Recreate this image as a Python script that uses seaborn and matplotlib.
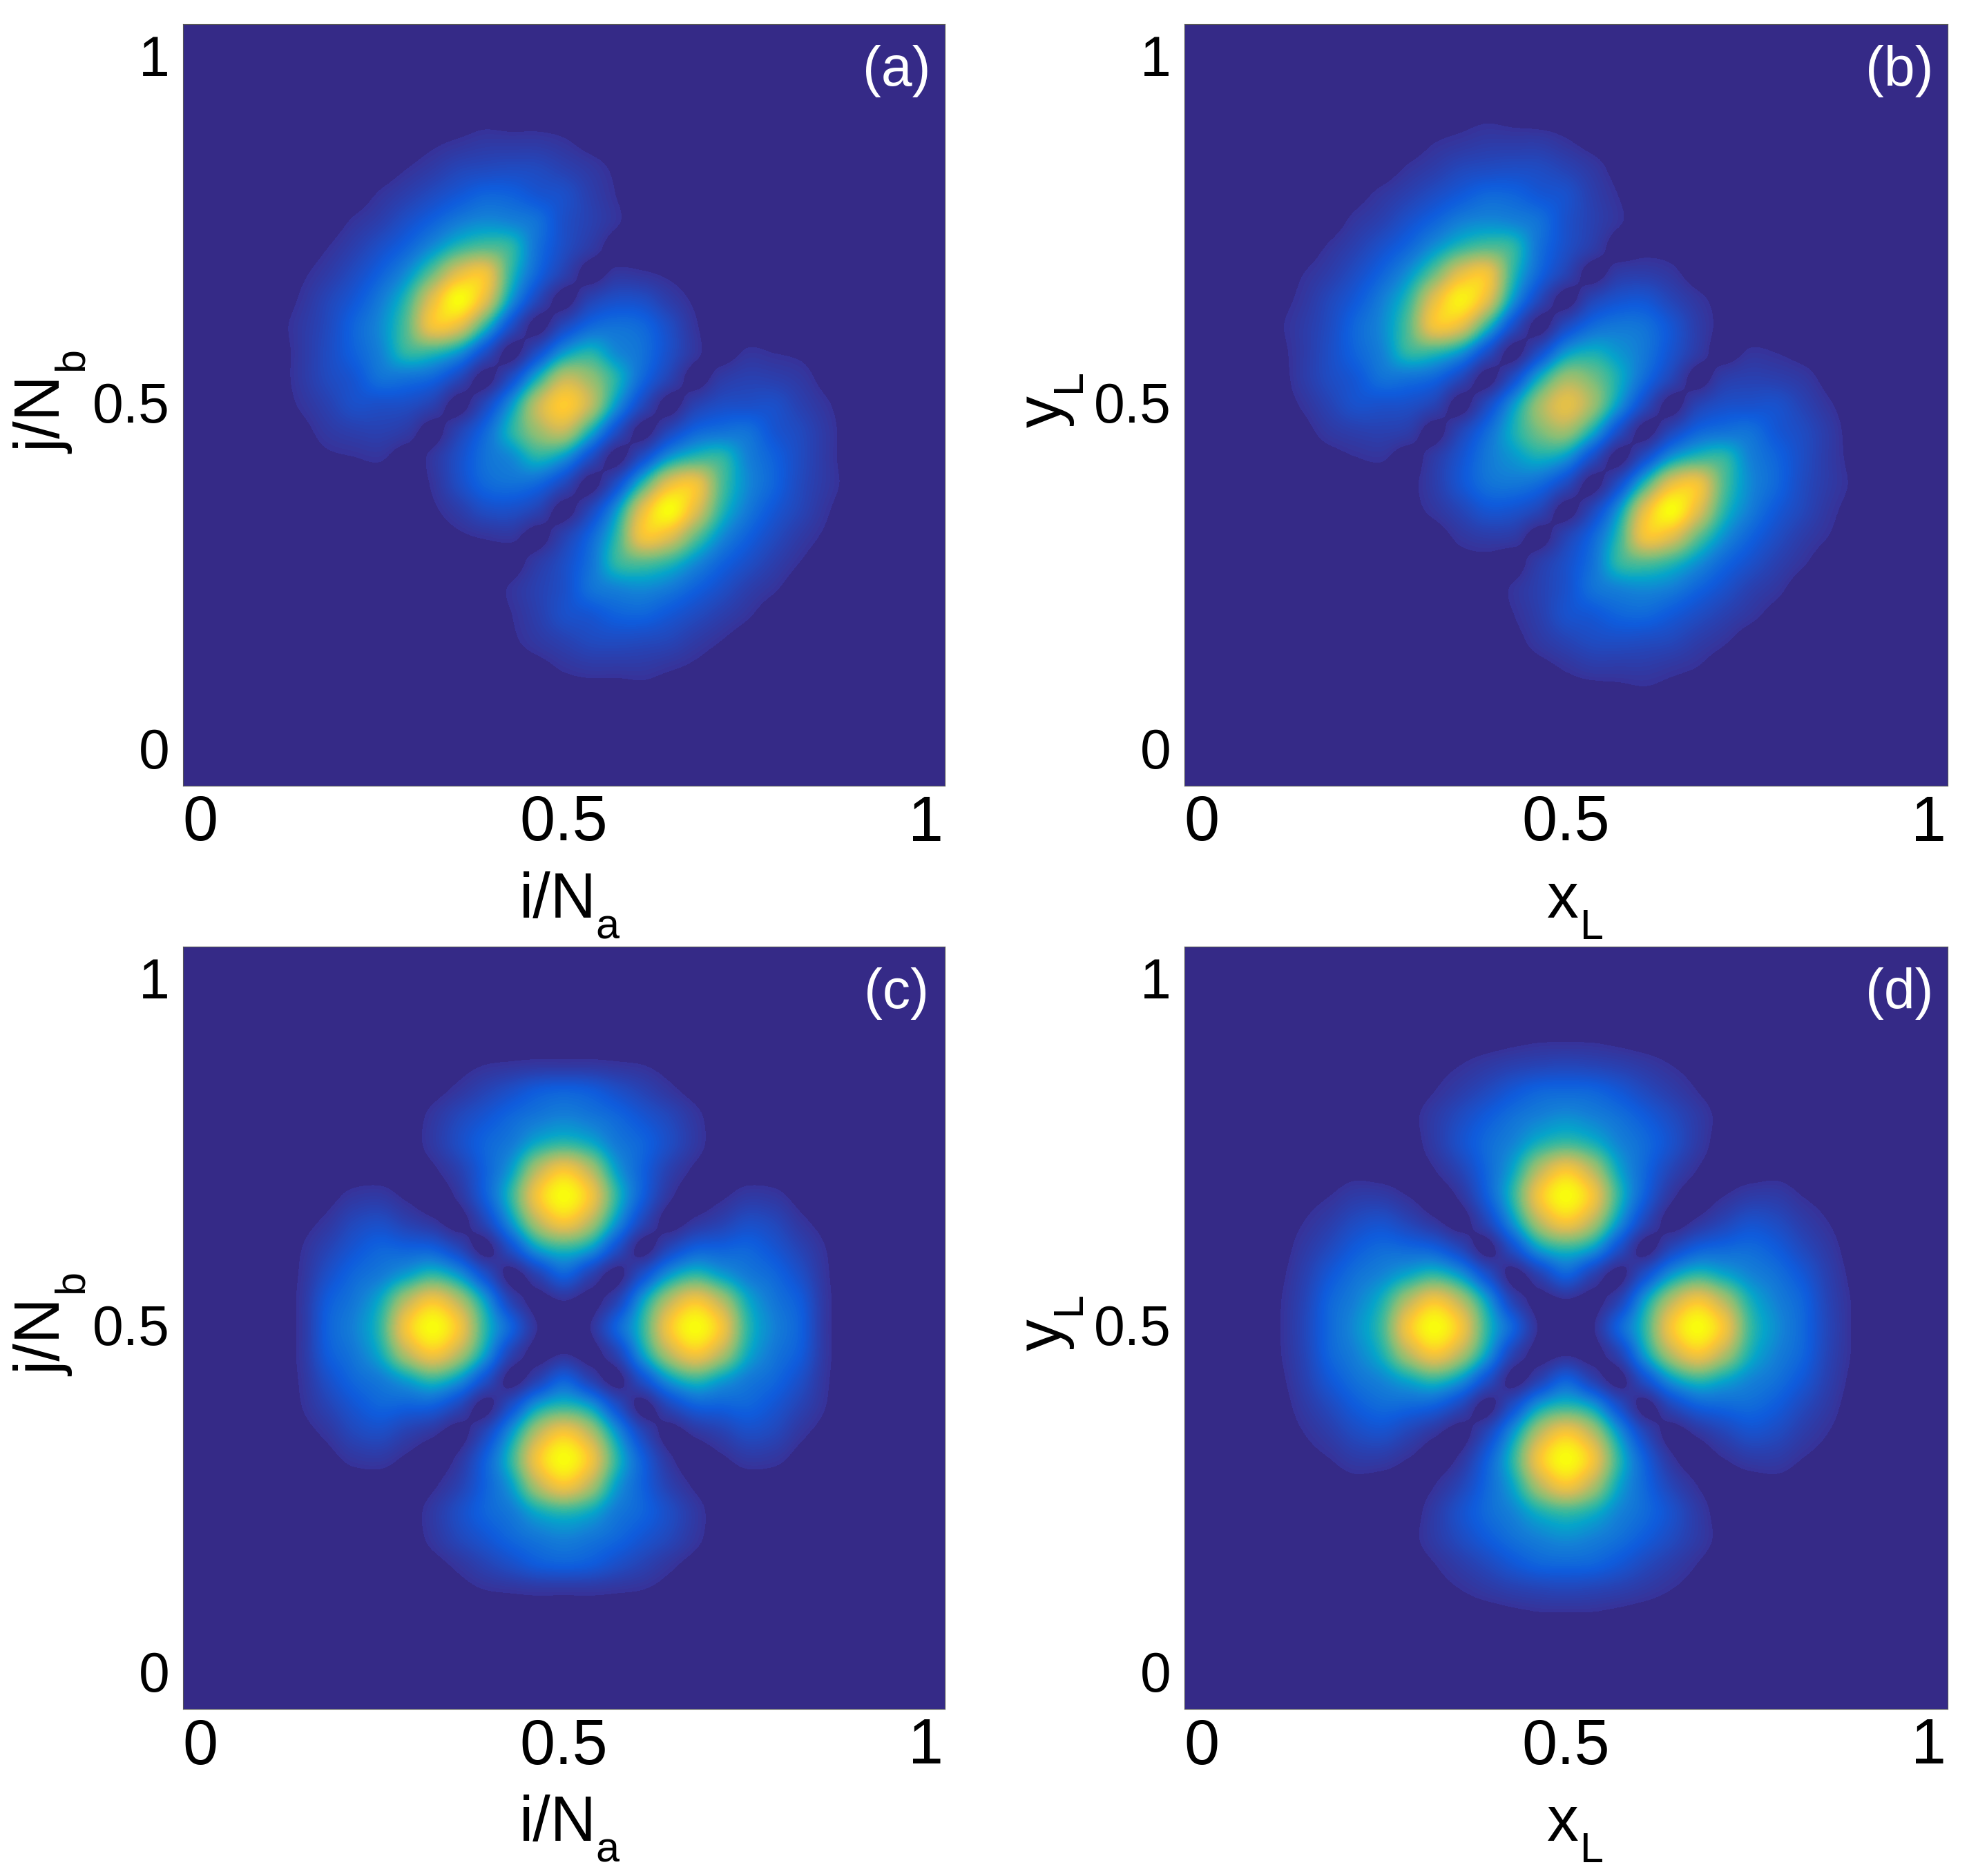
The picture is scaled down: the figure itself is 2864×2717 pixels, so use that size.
import numpy as np
import matplotlib
matplotlib.use("Agg")
import matplotlib.pyplot as plt
import seaborn as sns
from matplotlib.colors import LinearSegmentedColormap

# Values, 0 = background, 100 = brightest yellow
# rows run from top to bottom, lattice around the middle of each panel
panel_a = [
    [0,0,0,0,0,0,0,0,0,0,0,0,0,0,0,0,0,0,0,0,0,0,0,0,0],
    [0,0,0,0,0,0,0,0,0,1,0,0,0,0,0,0,0,0,0,0,0,0,0,0,0],
    [0,0,0,0,0,0,0,2,4,6,6,6,4,1,0,0,0,0,0,0,0,0,0,0,0],
    [0,0,0,0,0,0,3,7,12,14,15,14,10,6,2,0,0,0,0,0,0,0,0,0,0],
    [0,0,0,0,0,4,9,15,21,26,25,20,17,9,3,0,0,0,0,0,0,0,0,0,0],
    [0,0,0,0,4,9,17,25,33,37,35,30,17,10,4,0,0,0,0,0,0,0,0,0,0],
    [0,0,0,3,9,17,26,38,50,55,50,30,16,7,0,0,0,0,0,0,0,0,0,0,0],
    [0,0,2,7,15,25,38,58,80,84,50,26,10,0,5,4,2,0,0,0,0,0,0,0,0],
    [0,0,4,12,21,33,50,80,100,80,40,13,0,11,17,16,8,2,0,0,0,0,0,0,0],
    [0,1,6,14,26,37,55,84,80,50,17,0,14,27,30,27,16,4,0,0,0,0,0,0,0],
    [0,0,6,15,25,35,50,50,40,17,0,17,40,48,37,30,17,5,0,4,3,2,0,0,0],
    [0,0,6,14,20,30,30,26,13,0,17,47,72,65,48,27,11,0,7,10,9,6,1,0,0],
    [0,0,4,10,17,17,16,10,0,14,40,72,88,72,40,14,0,10,16,17,17,10,4,0,0],
    [0,0,1,6,9,10,7,0,11,27,48,65,72,47,17,0,13,26,30,30,20,14,6,0,0],
    [0,0,0,2,3,4,0,5,17,30,37,48,40,17,0,17,40,50,50,35,25,15,6,0,0],
    [0,0,0,0,0,0,0,4,16,27,30,27,14,0,17,50,80,84,55,37,26,14,6,1,0],
    [0,0,0,0,0,0,0,2,8,16,17,11,0,13,40,80,100,80,50,33,21,12,4,0,0],
    [0,0,0,0,0,0,0,0,2,4,5,0,10,26,50,84,80,58,38,25,15,7,2,0,0],
    [0,0,0,0,0,0,0,0,0,0,0,7,16,30,50,55,50,38,26,17,9,3,0,0,0],
    [0,0,0,0,0,0,0,0,0,0,4,10,17,30,35,37,33,25,17,9,4,0,0,0,0],
    [0,0,0,0,0,0,0,0,0,0,3,9,17,20,25,26,21,15,9,4,0,0,0,0,0],
    [0,0,0,0,0,0,0,0,0,0,2,6,10,14,15,14,12,7,3,0,0,0,0,0,0],
    [0,0,0,0,0,0,0,0,0,0,0,1,4,6,6,6,4,2,0,0,0,0,0,0,0],
    [0,0,0,0,0,0,0,0,0,0,0,0,0,0,0,1,0,0,0,0,0,0,0,0,0],
    [0,0,0,0,0,0,0,0,0,0,0,0,0,0,0,0,0,0,0,0,0,0,0,0,0],
]
panel_b = [
    [0,0,0,0,0,0,0,0,0,0,0,0,0,0,0,0,0,0,0,0,0,0,0,0,0],
    [0,0,0,0,0,0,0,0,1,2,1,0,0,0,0,0,0,0,0,0,0,0,0,0,0],
    [0,0,0,0,0,0,0,3,5,7,7,7,4,1,0,0,0,0,0,0,0,0,0,0,0],
    [0,0,0,0,0,0,4,8,13,15,16,15,11,6,1,0,0,0,0,0,0,0,0,0,0],
    [0,0,0,0,1,5,10,16,22,27,26,21,18,9,3,0,0,0,0,0,0,0,0,0,0],
    [0,0,0,0,5,10,18,26,34,37,35,30,18,10,4,0,0,0,0,0,0,0,0,0,0],
    [0,0,0,4,10,18,27,39,50,55,50,30,17,8,0,1,1,0,0,0,0,0,0,0,0],
    [0,0,3,8,16,26,39,58,80,84,50,26,11,0,7,8,5,0,0,0,0,0,0,0,0],
    [0,1,5,13,22,34,50,80,97,80,40,13,0,12,19,20,12,5,1,0,0,0,0,0,0],
    [0,2,7,15,27,37,55,84,80,50,17,0,15,28,32,30,20,8,1,0,0,0,0,0,0],
    [0,1,7,16,26,35,50,50,40,17,0,17,40,46,40,32,19,7,0,4,3,1,0,0,0],
    [0,0,7,15,21,30,30,26,13,0,17,46,66,60,46,28,12,0,8,10,9,6,1,0,0],
    [0,0,4,11,18,18,17,11,0,15,40,66,80,66,40,15,0,11,17,18,18,11,4,0,0],
    [0,0,1,6,9,10,8,0,12,28,46,60,66,46,17,0,13,26,30,30,21,15,7,0,0],
    [0,0,0,1,3,4,0,7,19,32,40,46,40,17,0,17,40,50,50,35,26,16,7,1,0],
    [0,0,0,0,0,0,1,8,20,30,32,28,15,0,17,50,80,84,55,37,27,15,7,2,0],
    [0,0,0,0,0,0,1,5,12,20,19,12,0,13,40,80,100,80,50,34,22,13,5,1,0],
    [0,0,0,0,0,0,0,0,5,8,7,0,11,26,50,84,80,58,39,26,16,8,3,0,0],
    [0,0,0,0,0,0,0,0,1,1,0,8,17,30,50,55,50,39,27,18,10,4,0,0,0],
    [0,0,0,0,0,0,0,0,0,0,4,10,18,30,35,37,34,26,18,10,5,0,0,0,0],
    [0,0,0,0,0,0,0,0,0,0,3,9,18,21,26,27,22,16,10,5,1,0,0,0,0],
    [0,0,0,0,0,0,0,0,0,0,1,6,11,15,16,15,13,8,4,0,0,0,0,0,0],
    [0,0,0,0,0,0,0,0,0,0,0,1,4,7,7,7,5,3,0,0,0,0,0,0,0],
    [0,0,0,0,0,0,0,0,0,0,0,0,0,0,1,2,1,0,0,0,0,0,0,0,0],
    [0,0,0,0,0,0,0,0,0,0,0,0,0,0,0,0,0,0,0,0,0,0,0,0,0],
]
panel_c = [
    [0,0,0,0,0,0,0,0,0,0,0,0,0,0,0,0,0,0,0,0,0,0,0,0,0],
    [0,0,0,0,0,0,0,0,0,0,0,0,0,0,0,0,0,0,0,0,0,0,0,0,0],
    [0,0,0,0,0,0,0,0,1,3,4,5,5,5,4,3,1,0,0,0,0,0,0,0,0],
    [0,0,0,0,0,0,0,1,5,11,17,23,25,23,17,11,5,1,0,0,0,0,0,0,0],
    [0,0,0,0,0,0,0,5,13,20,27,32,35,32,27,20,13,5,0,0,0,0,0,0,0],
    [0,0,0,0,0,0,0,6,16,26,33,45,50,45,33,26,16,6,0,0,0,0,0,0,0],
    [0,0,0,0,0,0,0,2,10,25,42,70,85,70,42,25,10,2,0,0,0,0,0,0,0],
    [0,0,0,1,5,6,2,0,5,24,50,85,100,85,50,24,5,0,2,6,5,1,0,0,0],
    [0,0,1,5,13,16,10,5,0,13,40,70,85,70,40,13,0,5,10,16,13,5,1,0,0],
    [0,0,3,11,20,26,25,24,13,0,18,42,50,42,18,0,13,24,25,26,20,11,3,0,0],
    [0,0,4,17,27,33,42,50,40,18,0,11,25,11,0,18,40,50,42,33,27,17,4,0,0],
    [0,0,5,23,32,45,70,85,70,42,11,0,3,0,11,42,70,85,70,45,32,23,5,0,0],
    [0,0,5,25,35,50,85,100,85,50,25,3,0,3,25,50,85,100,85,50,35,25,5,0,0],
    [0,0,5,23,32,45,70,85,70,42,11,0,3,0,11,42,70,85,70,45,32,23,5,0,0],
    [0,0,4,17,27,33,42,50,40,18,0,11,25,11,0,18,40,50,42,33,27,17,4,0,0],
    [0,0,3,11,20,26,25,24,13,0,18,42,50,42,18,0,13,24,25,26,20,11,3,0,0],
    [0,0,1,5,13,16,10,5,0,13,40,70,85,70,40,13,0,5,10,16,13,5,1,0,0],
    [0,0,0,1,5,6,2,0,5,24,50,85,100,85,50,24,5,0,2,6,5,1,0,0,0],
    [0,0,0,0,0,0,0,2,10,25,42,70,85,70,42,25,10,2,0,0,0,0,0,0,0],
    [0,0,0,0,0,0,0,6,16,26,33,45,50,45,33,26,16,6,0,0,0,0,0,0,0],
    [0,0,0,0,0,0,0,5,13,20,27,32,35,32,27,20,13,5,0,0,0,0,0,0,0],
    [0,0,0,0,0,0,0,1,5,11,17,23,25,23,17,11,5,1,0,0,0,0,0,0,0],
    [0,0,0,0,0,0,0,0,1,3,4,5,5,5,4,3,1,0,0,0,0,0,0,0,0],
    [0,0,0,0,0,0,0,0,0,0,0,0,0,0,0,0,0,0,0,0,0,0,0,0,0],
    [0,0,0,0,0,0,0,0,0,0,0,0,0,0,0,0,0,0,0,0,0,0,0,0,0],
]
panel_d = [
    [0,0,0,0,0,0,0,0,0,0,0,0,0,0,0,0,0,0,0,0,0,0,0,0,0],
    [0,0,0,0,0,0,0,0,0,0,1,2,2,2,1,0,0,0,0,0,0,0,0,0,0],
    [0,0,0,0,0,0,0,1,3,6,9,11,12,11,9,6,3,1,0,0,0,0,0,0,0],
    [0,0,0,0,0,0,0,3,8,14,21,26,27,26,21,14,8,3,0,0,0,0,0,0,0],
    [0,0,0,0,0,0,1,7,15,23,30,35,38,35,30,23,15,7,1,0,0,0,0,0,0],
    [0,0,0,0,0,0,0,7,18,28,36,47,52,47,36,28,18,7,0,0,0,0,0,0,0],
    [0,0,0,0,1,0,0,3,12,27,44,70,85,70,44,27,12,3,0,0,1,0,0,0,0],
    [0,0,1,3,7,7,3,0,5,24,50,85,100,85,50,24,5,0,3,7,7,3,1,0,0],
    [0,0,3,8,15,18,12,5,0,13,40,70,85,70,40,13,0,5,12,18,15,8,3,0,0],
    [0,0,6,14,23,28,27,24,13,0,18,42,50,42,18,0,13,24,27,28,23,14,6,0,0],
    [0,1,9,21,30,36,44,50,40,18,0,11,25,11,0,18,40,50,44,36,30,21,9,1,0],
    [0,2,11,26,35,47,70,85,70,42,11,0,2,0,11,42,70,85,70,47,35,26,11,2,0],
    [0,2,12,27,38,52,85,100,85,50,25,2,0,2,25,50,85,100,85,52,38,27,12,2,0],
    [0,2,11,26,35,47,70,85,70,42,11,0,2,0,11,42,70,85,70,47,35,26,11,2,0],
    [0,1,9,21,30,36,44,50,40,18,0,11,25,11,0,18,40,50,44,36,30,21,9,1,0],
    [0,0,6,14,23,28,27,24,13,0,18,42,50,42,18,0,13,24,27,28,23,14,6,0,0],
    [0,0,3,8,15,18,12,5,0,13,40,70,85,70,40,13,0,5,12,18,15,8,3,0,0],
    [0,0,1,3,7,7,3,0,5,24,50,85,100,85,50,24,5,0,3,7,7,3,1,0,0],
    [0,0,0,0,1,0,0,3,12,27,44,70,85,70,44,27,12,3,0,0,1,0,0,0,0],
    [0,0,0,0,0,0,0,7,18,28,36,47,52,47,36,28,18,7,0,0,0,0,0,0,0],
    [0,0,0,0,0,0,1,7,15,23,30,35,38,35,30,23,15,7,1,0,0,0,0,0,0],
    [0,0,0,0,0,0,0,3,8,14,21,26,27,26,21,14,8,3,0,0,0,0,0,0,0],
    [0,0,0,0,0,0,0,1,3,6,9,11,12,11,9,6,3,1,0,0,0,0,0,0,0],
    [0,0,0,0,0,0,0,0,0,0,1,2,2,2,1,0,0,0,0,0,0,0,0,0,0],
    [0,0,0,0,0,0,0,0,0,0,0,0,0,0,0,0,0,0,0,0,0,0,0,0,0],
]

tick_labels = ["0", "0.5", "1"]
panel_names = ["(a)", "(b)", "(c)", "(d)"]
x_mains = ["i/N", "x", "i/N", "x"]
x_subs = ["a", "L", "a", "L"]
y_mains = ["j/N", "y", "j/N", "y"]
y_subs = ["b", "L", "b", "L"]

sns.set_theme(style="white")
plt.rcParams["font.family"] = ["Liberation Sans", "DejaVu Sans"]

parula = LinearSegmentedColormap.from_list("parula", [
    (0.0, "#352a87"), (0.025, "#352a87"), (0.027, "#37339a"), (0.23, "#0f5cdd"),
    (0.35, "#1481d6"), (0.43, "#06a4ca"), (0.5, "#2eb7a4"), (0.62, "#87bf77"),
    (0.75, "#d1bb59"), (0.875, "#fec832"), (1.0, "#f9fb0e")], N=96)

W, H = 2864, 2717
fig = plt.figure(figsize=(W / 100, H / 100), dpi=100, facecolor="white")
boxes = [(265, 35, 1103, 1103), (1715, 35, 1105, 1103),
         (265, 1371, 1103, 1104), (1715, 1371, 1105, 1104)]

for i, (grid, box) in enumerate(zip([panel_a, panel_b, panel_c, panel_d], boxes)):
    left, top, w, h = box
    ax = fig.add_axes([left / W, 1 - (top + h) / H, w / W, h / H])
    # two empty cells around the lattice so it fills the axes
    data = np.pad(np.array(grid, dtype=float), 2)
    n = data.shape[0]
    sns.heatmap(data, ax=ax, cmap=parula, vmin=0, vmax=100, cbar=False,
                xticklabels=False, yticklabels=False)
    # smooth the cells on screen like the shaded original
    ax.imshow(data, cmap=parula, vmin=0, vmax=100, interpolation="catrom",
              interpolation_stage="data", extent=(0, n, n, 0), aspect="auto", zorder=2)
    ax.set_xlim(0, n)
    ax.set_ylim(n, 0)

    ax.set_xticks([0.0227 * n, 0.5 * n, 0.975 * n])
    ax.set_xticklabels(tick_labels)
    ax.set_yticks([0.041 * n, 0.496 * n, 0.951 * n])
    ax.set_yticklabels(tick_labels[::-1], rotation=0)
    ax.tick_params(axis="x", length=0, labelsize=66, pad=9, colors="black")
    ax.tick_params(axis="y", length=0, labelsize=58, pad=14, colors="black")

    # labels and their subscripts are placed apart, the subscripts sit low
    is_ij = i in (0, 2)
    ax.set_xlabel(x_mains[i], fontsize=66, va="baseline", color="black")
    ax.xaxis.set_label_coords(0.492 if is_ij else 0.496, -0.173)
    ax.text(0.542 if is_ij else 0.5186, -0.201, x_subs[i], transform=ax.transAxes,
            fontsize=44, ha="left", va="baseline", color="black")
    ax.set_ylabel(y_mains[i], fontsize=66, va="baseline", color="black")
    ax.yaxis.set_label_coords(-0.160 if is_ij else -0.161, 0.487 if is_ij else 0.491)
    ax.text(-0.132 if is_ij else -0.137, 0.545 if is_ij else 0.517, y_subs[i],
            transform=ax.transAxes, fontsize=44, rotation=90, rotation_mode="anchor",
            ha="left", va="baseline", color="black")

    ax.text(0.9365, 0.938, panel_names[i], transform=ax.transAxes, color="white",
            fontsize=58, ha="center", va="center", zorder=3)
    for s in ax.spines.values():
        s.set_visible(True)
        s.set_linewidth(0.8)
        s.set_color("#555555")
        s.set_zorder(4)

fig.savefig("out.png", dpi=100, facecolor="white")
